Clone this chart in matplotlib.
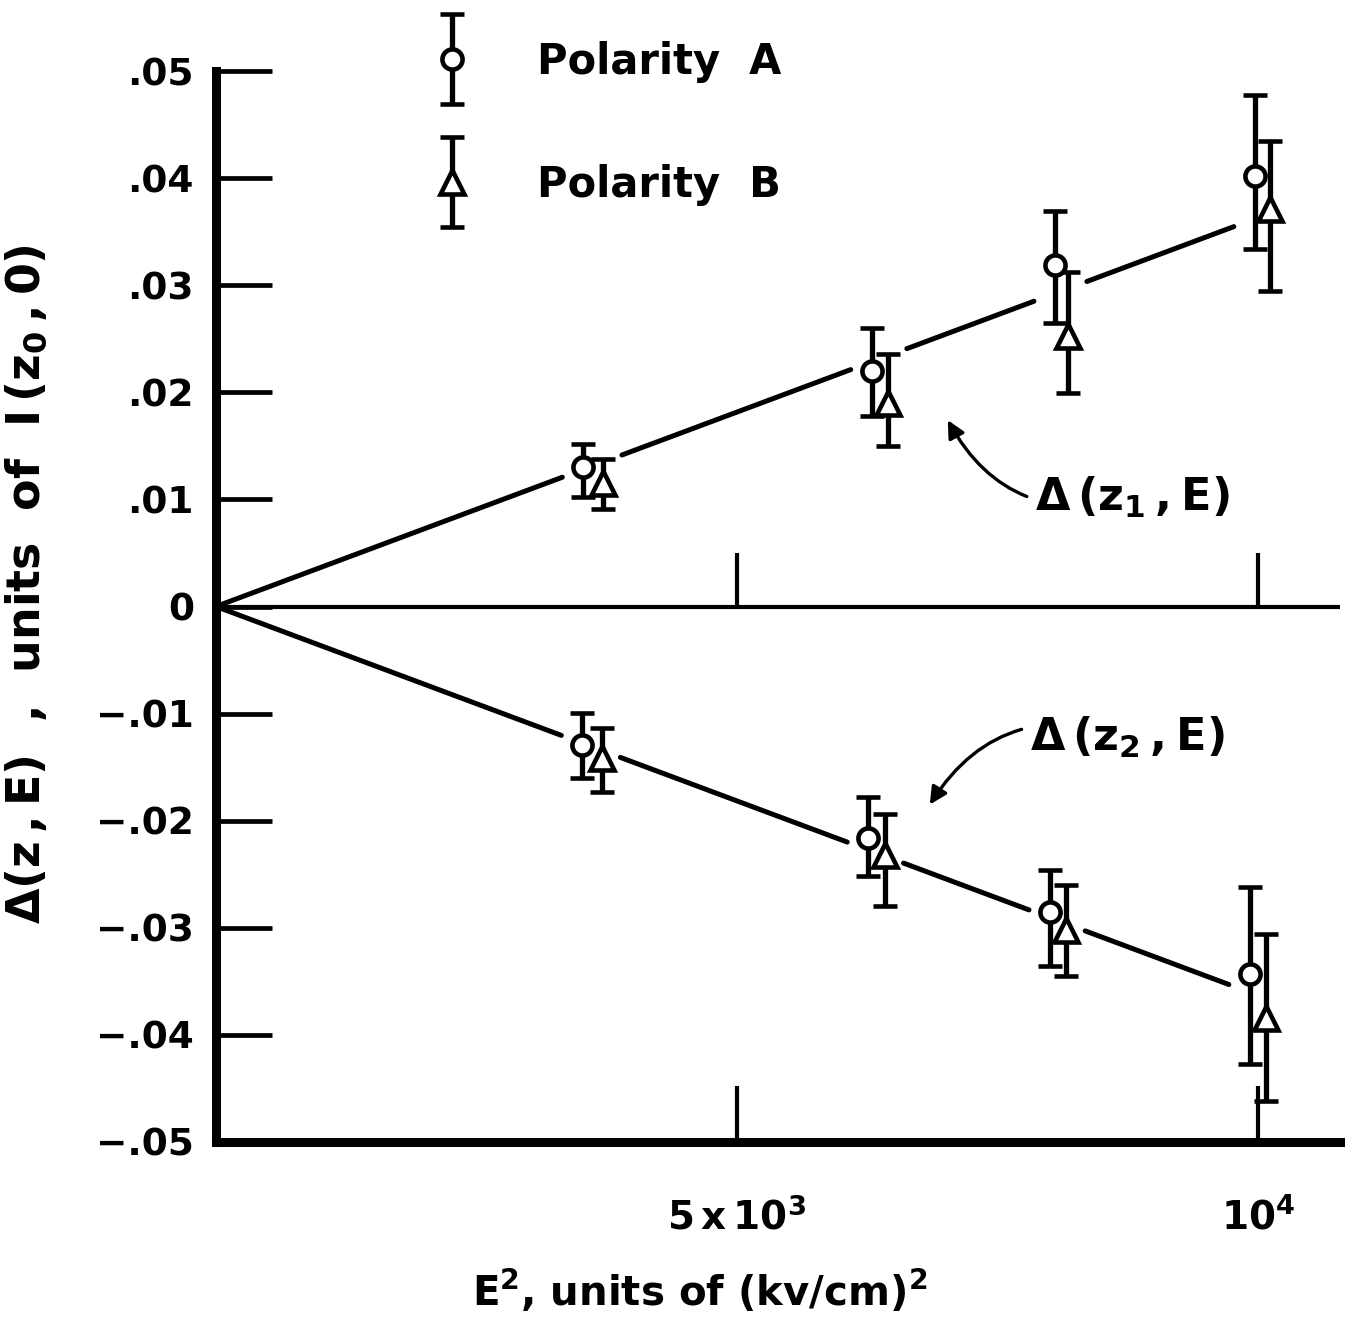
import numpy as np
import matplotlib
matplotlib.use("Agg")
import matplotlib.pyplot as plt
from matplotlib.container import ErrorbarContainer
from matplotlib.legend_handler import HandlerErrorbar

# ---------------------------------------------------------------
# values
# ---------------------------------------------------------------
# upper branch  Delta(z1,E)
X_A_UP = [3525, 6293, 8052, 9971]
Y_A_UP = [0.0130, 0.0220, 0.0319, 0.0402]
LO_A_UP = [0.0102, 0.0178, 0.0265, 0.0334]
HI_A_UP = [0.0152, 0.0260, 0.0369, 0.0478]

X_B_UP = [3717, 6452, 8180, 10115]
Y_B_UP = [0.0115, 0.0190, 0.0253, 0.0371]
LO_B_UP = [0.0091, 0.0150, 0.0199, 0.0295]
HI_B_UP = [0.0138, 0.0236, 0.0312, 0.0435]

# lower branch  Delta(z2,E)
X_A_LO = [3515, 6260, 8004, 9923]
Y_A_LO = [-0.0129, -0.0216, -0.0285, -0.0343]
LO_A_LO = [-0.0160, -0.0252, -0.0336, -0.0427]
HI_A_LO = [-0.0099, -0.0178, -0.0246, -0.0262]

X_B_LO = [3702, 6420, 8164, 10084]
Y_B_LO = [-0.0141, -0.0232, -0.0302, -0.0384]
LO_B_LO = [-0.0173, -0.0280, -0.0345, -0.0462]
HI_B_LO = [-0.0113, -0.0194, -0.0260, -0.0306]

# straight lines through the origin: value reached at FIT_X
FIT_X = 10000
FIT_UP = 0.0363
FIT_LO = -0.0363

Y_TICKS = [0.05, 0.04, 0.03, 0.02, 0.01, 0, -0.01, -0.02, -0.03, -0.04, -0.05]
Y_TICKLABELS = [".05", ".04", ".03", ".02", ".01", "0",
                "\u2212.01", "\u2212.02", "\u2212.03", "\u2212.04", "\u2212.05"]
X_TICKS = [5000, 10000]
X_TICKLABELS = [r"$5\,x\,10^{3}$", r"$10^{4}$"]

LABELS = ["Polarity  A", "Polarity  B"]
X_LABEL = r"$E^{2}$, units of $(kv/cm)^{2}$"
Y_LABEL = r"$\Delta(z\,,E)$  ,  units  of  $I\,(z_{0}\,,0)$"
NOTE_UP = r"$\Delta\,(z_{1}\,,E)$"
NOTE_LO = r"$\Delta\,(z_{2}\,,E)$"

XMAX = 10790
GAP_BEFORE = 200   # the fitted lines are broken around each pair of points
GAP_AFTER = 180

plt.rcParams["font.family"] = "DejaVu Sans"
plt.rcParams["font.weight"] = "bold"
plt.rcParams["axes.labelweight"] = "bold"
plt.rcParams["mathtext.fontset"] = "custom"
plt.rcParams["mathtext.rm"] = "DejaVu Sans:bold"
plt.rcParams["mathtext.it"] = "DejaVu Sans:bold"
plt.rcParams["mathtext.bf"] = "DejaVu Sans:bold"
plt.rcParams["mathtext.default"] = "rm"


def broken_line(ax, xa, xb, y_end):
    slope = y_end / FIT_X
    starts = [0] + [b + GAP_AFTER for b in xb[:-1]]
    ends = [a - GAP_BEFORE for a in xa]
    for s, e in zip(starts, ends):
        ax.plot([s, e], [slope * s, slope * e], color="k", lw=3.6,
                solid_capstyle="round", zorder=2)


def bars(ax, x, y, lo, hi, marker, ms):
    y = np.asarray(y)
    err = [y - np.asarray(lo), np.asarray(hi) - y]
    return ax.errorbar(x, y, yerr=err, fmt=marker, ms=ms, mfc="white",
                       mec="k", mew=3.3, ecolor="k", elinewidth=3.8,
                       capsize=8.5, capthick=5.5, zorder=3)


def main():
    fig = plt.figure(figsize=(13.48, 13.25), dpi=100)
    ax = fig.add_axes([216 / 1348, 1 - 1142 / 1325, (1340 - 216) / 1348, (1142 - 71) / 1325])

    ax.axhline(0, color="k", lw=3, zorder=1)
    ax.vlines(X_TICKS, 0, 0.005, color="k", lw=3)

    broken_line(ax, X_A_UP, X_B_UP, FIT_UP)
    broken_line(ax, X_A_LO, X_B_LO, FIT_LO)

    ea = bars(ax, X_A_UP, Y_A_UP, LO_A_UP, HI_A_UP, "o", 14.5)
    eb = bars(ax, X_B_UP, Y_B_UP, LO_B_UP, HI_B_UP, "^", 17)
    bars(ax, X_A_LO, Y_A_LO, LO_A_LO, HI_A_LO, "o", 14.5)
    bars(ax, X_B_LO, Y_B_LO, LO_B_LO, HI_B_LO, "^", 17)

    ax.set_xlim(0, XMAX)
    ax.set_ylim(-0.05, 0.05)

    for side in ("top", "right"):
        ax.spines[side].set_visible(False)
    ax.spines["left"].set_linewidth(6.5)
    ax.spines["bottom"].set_linewidth(6.5)

    ax.set_yticks(Y_TICKS)
    ax.set_yticklabels(Y_TICKLABELS)
    ax.set_xticks(X_TICKS)
    ax.set_xticklabels(X_TICKLABELS)
    ax.tick_params(axis="y", direction="in", length=40, width=3.4, pad=16, labelsize=27)
    ax.tick_params(axis="x", direction="in", length=40, width=3, pad=40, labelsize=28)

    ax.set_xlabel(X_LABEL, fontsize=29)
    ax.xaxis.set_label_coords(0.43, -0.118)
    ax.set_ylabel(Y_LABEL, fontsize=33)
    ax.yaxis.set_label_coords(-0.148, 0.521)

    arrow = dict(arrowstyle="-|>", color="k", lw=2.4, mutation_scale=26, shrinkA=4, shrinkB=0)
    ax.annotate(NOTE_UP, xy=(7025, 0.0174), xytext=(7860, 0.0102), fontsize=32,
                ha="left", va="center",
                arrowprops=dict(arrow, connectionstyle="arc3,rad=-0.4"))
    ax.annotate(NOTE_LO, xy=(6852, -0.0185), xytext=(7812, -0.0122), fontsize=32,
                ha="left", va="center",
                arrowprops=dict(arrow, connectionstyle="arc3,rad=0.4"))

    ax.legend([ea, eb], LABELS, loc="upper left", frameon=False, fontsize=30,
              numpoints=1, handlelength=1.5, handletextpad=1.3, labelspacing=1.95,
              borderpad=0, bbox_to_anchor=(400 / 1348, 1 - 20 / 1325),
              bbox_transform=fig.transFigure,
              handler_map={ErrorbarContainer: HandlerErrorbar(yerr_size=1.08)})

    fig.savefig("out.png", dpi=100)


if __name__ == "__main__":
    main()
